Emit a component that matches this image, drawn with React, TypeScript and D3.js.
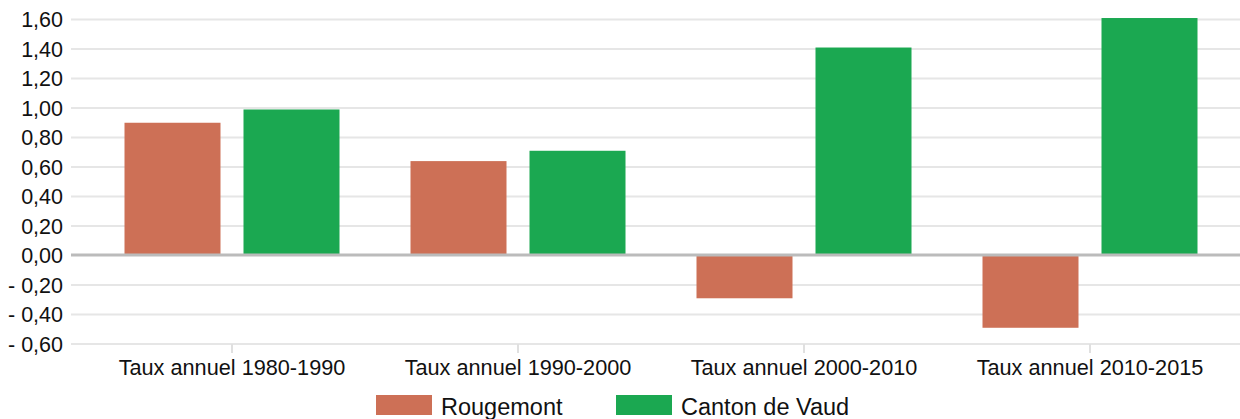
import React from "react";
import * as d3 from "d3";

const categories = ["Taux annuel 1980-1990", "Taux annuel 1990-2000", "Taux annuel 2000-2010", "Taux annuel 2010-2015"];
const seriesNames = ["Rougemont", "Canton de Vaud"];
const rougemont = [0.9, 0.64, -0.29, -0.49];
const vaud = [0.99, 0.71, 1.41, 1.61];
const yTicks = [1.6, 1.4, 1.2, 1.0, 0.8, 0.6, 0.4, 0.2, 0, -0.2, -0.4, -0.6];
const colors = ["#cd7056", "#1ba851"];

const W = 1240;
const H = 419;
const FONT = "'Liberation Sans', Arial, sans-serif";

function fmt(v: number) {
  const s = Math.abs(v).toFixed(2).replace(".", ",");
  if (v < -1e-9) return "- " + s;
  return s;
}

export default function App() {
  const x = d3.scaleBand<string>().domain(categories).range([89, 1233]);
  const y = d3.scaleLinear().domain([-0.6, 1.6]).range([344, 19.5]);
  const band = x.bandwidth();
  const barW = 96;
  const gap = 23;
  const offs = [band / 2 - gap / 2 - barW, band / 2 + gap / 2];
  const data = [rougemont, vaud];
  return (
    <svg width={W} height={H} style={{ position: "absolute", left: 0, top: 0, display: "block" }} fontFamily={FONT}>
      <rect width={W} height={H} fill="#fff" />
      {yTicks.filter((t) => t !== 0).map((t) => (
        <line key={t} x1={71} x2={W} y1={y(t)} y2={y(t)} stroke="#e6e6e6" strokeWidth={2} />
      ))}
      {categories.map((c) => (
        <line key={c} x1={x(c)! + band / 2} x2={x(c)! + band / 2} y1={344} y2={353} stroke="#e0e0e0" strokeWidth={2} />
      ))}
      {data.map((vals, si) =>
        vals.map((v, i) => {
          const c = categories[i];
          const y0 = y(0);
          const y1 = y(v);
          return (
            <rect
              key={si + "-" + i}
              x={x(c)! + offs[si]}
              width={barW}
              y={Math.min(y0, y1)}
              height={Math.abs(y1 - y0)}
              fill={colors[si]}
            />
          );
        })
      )}
      <line x1={71} x2={W} y1={y(0) - 0.5} y2={y(0) - 0.5} stroke="#bbbbbb" strokeWidth={3} />
      {yTicks.map((t) => (
        <text key={t} x={63} y={y(t)} dy="0.35em" textAnchor="end" fontSize={21.5} fill="#111">
          {fmt(t)}
        </text>
      ))}
      {categories.map((c) => (
        <text key={c} x={x(c)! + band / 2} y={375} textAnchor="middle" fontSize={21.7} fill="#111">
          {c}
        </text>
      ))}
      {seriesNames.map((s, i) => {
        const sx = [376, 616][i];
        return (
          <g key={s}>
            <rect x={sx} y={395} width={56} height={20} fill={colors[i]} />
            <text x={sx + 65} y={414.5} fontSize={23.5} fill="#111">
              {s}
            </text>
          </g>
        );
      })}
    </svg>
  );
}
